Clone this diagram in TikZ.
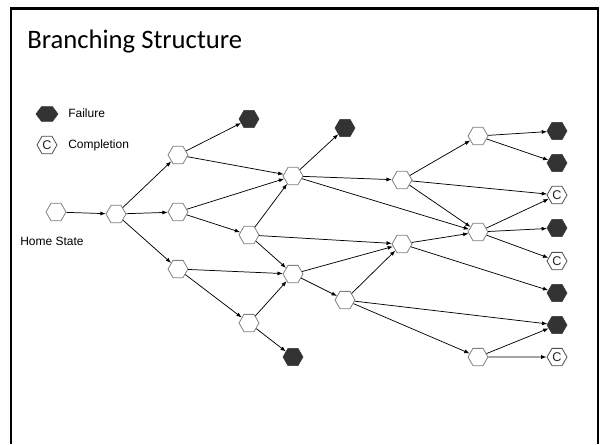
\documentclass[tikz,border=0pt]{standalone}
\usepackage{fontspec}
\setmainfont{Liberation Sans}
\newfontfamily\titlefont{Carlito}
\usetikzlibrary{shapes.geometric,arrows.meta}

\begin{document}
\begin{tikzpicture}[x=0.75pt,y=-0.75pt,
  hexbase/.style={regular polygon, regular polygon sides=6,
                  minimum size=15pt, inner sep=0pt},
  state/.style={hexbase, draw=black!50, line width=0.6pt, fill=white},
  fail/.style={hexbase, fill=black!80, draw=black!80, line width=0.4pt},
  done/.style={hexbase, draw=black!70, line width=0.6pt, fill=white,
               text=black!85, font=\fontsize{9.5}{10}\selectfont},
  link/.style={-{Latex[length=4pt,width=3pt]}, line width=0.55pt, black},
  lbl/.style={font=\fontsize{9}{11}\selectfont, inner sep=0pt}
]
\useasboundingbox (0,0) rectangle (602,444);

% slide frame (open at the bottom)
\draw[line width=1.8pt] (11,444) -- (11,8.5) -- (598,8.5) -- (598,444);

% title
\node[anchor=base west, inner sep=0pt,
      font=\titlefont\fontsize{20}{24}\selectfont] (title) at (27,48)
      {Branching Structure};

% legend
\node[fail, xscale=1.1, yscale=0.85] (legfail) at (47,114) {};
\node[lbl, anchor=west] (legfailtxt) at (68,113.5) {Failure};
\node[done] (legdone) at (47,145) {C};
\node[lbl, anchor=base west] (legdonetxt) at (68,148.5) {Completion};

% states
\node[state] (h0) at (56,212) {};
\node[lbl, anchor=base] (homelbl) at (52,245.5) {Home State};
\node[state] (a)  at (116,214) {};

\node[state] (b1) at (178,155) {};
\node[state] (b2) at (178,212) {};
\node[state] (b3) at (178,269) {};
\node[fail]  (f1) at (249,119) {};

\node[state] (c1) at (293,176) {};
\node[state] (c2) at (249,235) {};
\node[state] (c3) at (293,274) {};
\node[state] (c4) at (249,323) {};
\node[fail]  (f2) at (345,128) {};
\node[fail]  (f3) at (293,357) {};

\node[state] (d1) at (402,180) {};
\node[state] (d2) at (402,244) {};
\node[state] (d3) at (345,300) {};

\node[state] (e1) at (478,136) {};
\node[state] (e2) at (478,232) {};
\node[state] (e3) at (478,357) {};

% outcomes
\node[fail] (r1) at (557,131) {};
\node[fail] (r2) at (557,163) {};
\node[done] (r3) at (557,195) {C};
\node[fail] (r4) at (557,228) {};
\node[done] (r5) at (557,261) {C};
\node[fail] (r6) at (557,293) {};
\node[fail] (r7) at (557,325) {};
\node[done] (r8) at (557,357) {C};

% transitions
\draw[link] (h0) -- (a);
\draw[link] (a) -- (b1);
\draw[link] (a) -- (b2);
\draw[link] (a) -- (b3);

\draw[link] (b1) -- (f1);
\draw[link] (b1) -- (c1);
\draw[link] (b2) -- (c1);
\draw[link] (b2) -- (c2);
\draw[link] (b3) -- (c3);
\draw[link] (b3) -- (c4);

\draw[link] (c2) -- (c1);
\draw[link] (c1) -- (f2);
\draw[link] (c2) -- (c3);
\draw[link] (c4) -- (c3);
\draw[link] (c4) -- (f3);

\draw[link] (c1) -- (d1);
\draw[link] (c1) -- (e2);
\draw[link] (c2) -- (d2);
\draw[link] (c3) -- (d2);
\draw[link] (c3) -- (d3);
\draw[link] (d3) -- (d2);

\draw[link] (d1) -- (e1);
\draw[link] (d1) -- (r3);
\draw[link] (d1) -- (e2);
\draw[link] (d2) -- (e2);
\draw[link] (d2) -- (r6);
\draw[link] (d3) -- (r7);
\draw[link] (d3) -- (e3);

\draw[link] (e1) -- (r1);
\draw[link] (e1) -- (r2);
\draw[link] (e2) -- (r3);
\draw[link] (e2) -- (r4);
\draw[link] (e2) -- (r5);
\draw[link] (e3) -- (r7);
\draw[link] (e3) -- (r8);
\end{tikzpicture}
\end{document}
